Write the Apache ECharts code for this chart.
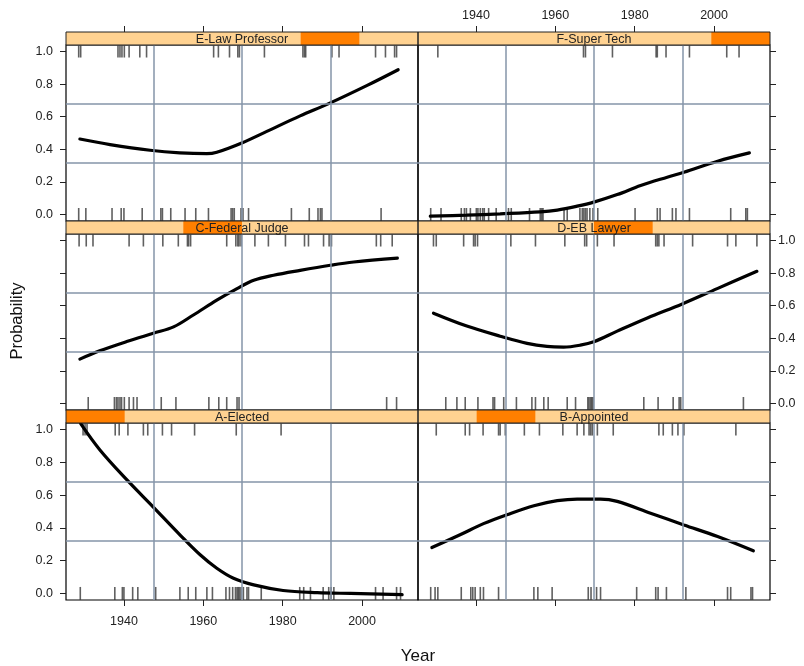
<!DOCTYPE html>
<html><head><meta charset="utf-8">
<script src="https://cdn.jsdelivr.net/npm/echarts@6/dist/echarts.min.js"></script>
<style>html,body{margin:0;padding:0;background:#fff}#c{width:804px;height:666px}</style>
</head><body><div id="c"></div>
<script>
// ---------- data ----------
const panelNames = ['E-Law Professor','F-Super Tech','C-Federal Judge','D-EB Lawyer','A-Elected','B-Appointed'];
const levelIndex = [4,5,2,3,0,1];
const xTicks = [1940,1960,1980,2000];
const yTicks = [0,0.2,0.4,0.6,0.8,1.0];
const xRef = [1947.6,1969.8,1992.1];
const yRef = [0.32,0.68];

const curveE = [[1928.9,0.463],[1936.5,0.429],[1946.6,0.394],[1954.1,0.378],[1960.9,0.373],[1963.4,0.382],[1969.7,0.439],[1976,0.510],[1984.4,0.605],[1991.6,0.680],[2001.3,0.792],[2009.1,0.888]];
const curveF = [[1928.5,-0.01],[1937.7,-0.004],[1946.1,0.004],[1956.2,0.016],[1960.5,0.027],[1965.5,0.051],[1969.7,0.076],[1975.6,0.122],[1981.5,0.178],[1988.2,0.229],[1992.4,0.259],[2000.9,0.327],[2008.9,0.378]];
const curveC = [[1928.9,0.272],[1933.9,0.323],[1940.7,0.380],[1947.4,0.431],[1952.5,0.470],[1957.5,0.543],[1963.4,0.634],[1968.5,0.705],[1972.7,0.756],[1977.7,0.787],[1984.4,0.817],[1992,0.848],[1997.9,0.868],[2008.9,0.892]];
const curveD = [[1929.3,0.554],[1937.7,0.475],[1946.1,0.413],[1952.9,0.369],[1957.9,0.350],[1962.1,0.346],[1966.3,0.358],[1969.7,0.379],[1975.6,0.444],[1983.2,0.525],[1992,0.611],[2000.8,0.705],[2010.8,0.811]];
const curveA = [[1929.1,1.036],[1933.9,0.877],[1940.7,0.694],[1947.4,0.527],[1954.1,0.358],[1959.2,0.236],[1963.4,0.154],[1967.6,0.093],[1972.7,0.052],[1980.1,0.018],[1988.7,0.005],[1997.1,0.0],[2010.1,-0.007]];
const curveB = [[1928.9,0.280],[1936,0.358],[1941.9,0.426],[1947.8,0.480],[1954.6,0.535],[1960.5,0.566],[1965.5,0.576],[1971.4,0.576],[1975.6,0.562],[1984,0.490],[1992.4,0.418],[2000.9,0.347],[2009.9,0.260]];

const rugTopE = [1928.6,1929.1,1938.5,1939.0,1939.5,1940.1,1941.3,1944.0,1945.7,1962.6,1963.8,1966.6,1968.7,1969.1,1975.4,1985.1,1985.5,1985.8,1992.4,1994.2,2003.4,2005.9,2008.2,2008.7];
const rugBotE = [1928.6,1930.4,1937.0,1939.3,1940.0,1944.6,1949.3,1949.7,1951.8,1955.4,1958.1,1961.3,1967.0,1967.4,1967.8,1969.5,1970.0,1971.4,1982.2,1986.7,1988.9,1989.5,1989.9,2004.8];
const rugTopF = [1930.4,1967.1,1967.6,1974.4,1985.4,1985.7,1987.9,1993.8,2003.2,2006.3];
const rugBotF = [1928.6,1931.2,1936.3,1937.1,1937.6,1938.6,1940.1,1940.5,1941.1,1941.7,1942.1,1943.2,1945.1,1948.2,1948.9,1953.5,1956.2,1956.6,1956.9,1962.2,1963.0,1966.2,1966.8,1967.2,1967.6,1968.0,1968.7,1969.5,1970.7,1980.1,1985.7,1986.4,1989.5,1990.4,1993.8,2004.2,2008.0,2008.4];
const rugTopC = [1928.7,1930.5,1932.2,1941.3,1944.9,1949.8,1953.7,1956.0,1956.3,1956.8,1965.9,1968.2,1968.7,1969.0,1969.5,1973.0,1976.4,1980.7,1985.5,1986.5,1990.3,1991.7,1992.3,2003.6,2004.7,2007.6];
const rugBotC = [1931.0,1937.6,1938.1,1938.5,1939.0,1939.4,1940.1,1941.3,1942.4,1943.3,1949.4,1953.1,1961.4,1963.9,1965.9,1968.5,1969.0,2006.2,2008.7];
const rugTopD = [1929.3,1930.0,1936.9,1939.4,1939.8,1940.4,1948.8,1955.0,1962.4,1967.4,1967.9,1970.6,1974.8,1985.3,1985.7,1986.1,1987.4,1994.6,2003.4,2005.5,2010.8];
const rugBotD = [1932.4,1935.2,1937.3,1940.5,1944.3,1944.7,1947.0,1950.2,1954.1,1955.0,1957.1,1958.2,1963.0,1965.1,1968.2,1968.5,1968.9,1969.2,1969.5,1982.3,1985.9,1989.7,1991.2,1991.6,2007.4];
const rugTopA = [1929.7,1930.2,1930.7,1937.8,1938.8,1941.0,1944.9,1946.0,1949.7,1952.0,1957.8,1968.3,1979.6];
const rugBotA = [1929.0,1937.7,1939.6,1940.0,1942.2,1943.5,1948.0,1954.1,1956.2,1958.1,1960.9,1962.3,1965.7,1966.6,1967.4,1968.1,1968.5,1968.8,1969.1,1969.5,1970.1,1971.0,1971.4,1974.6,1984.3,1985.3,1987.0,1990.2,1991.6,1992.2,1992.9,2003.4,2005.3,2008.7,2009.7];
const rugTopB = [1930.0,1937.3,1938.4,1941.8,1945.7,1946.1,1947.4,1952.2,1956.0,1961.9,1965.5,1967.2,1968.5,1968.9,1969.3,1970.6,1974.6,1986.1,1987.2,1989.5,1990.9,1992.4,2005.5];
const rugBotB = [1928.6,1929.7,1930.4,1936.3,1938.7,1939.2,1939.8,1941.1,1941.9,1945.7,1954.6,1955.6,1959.2,1968.3,1969.0,1970.4,1971.4,1980.5,1985.3,1985.9,1988.0,1992.9,2003.4,2004.2,2009.3,2009.7];

const curves = [curveE,curveF,curveC,curveD,curveA,curveB];
const rugTops = [rugTopE,rugTopF,rugTopC,rugTopD,rugTopA,rugTopB];
const rugBots = [rugBotE,rugBotF,rugBotC,rugBotD,rugBotA,rugBotB];

// ---------- layout ----------
const FONT = "'Liberation Sans', Arial, sans-serif";
const colLeft = [66, 418];
const panelW = 352;
const rowTop = [45, 234, 423];
const rowH = [176, 176, 177];
const stripH = 13;
const xMin = 1925.4, xMax = 2014.1, yMin = -0.04, yMax = 1.04;
const refColor = '#8494a8';
const lightStrip = '#ffd291';
const darkStrip = '#ff7f00';

const grids = [], xAxes = [], yAxes = [], series = [], graphics = [];
for (let i = 0; i < 6; i++) {
  const col = i % 2, row = Math.floor(i / 2);
  const left = colLeft[col], top = rowTop[row];
  grids.push({left: left, top: top, width: panelW, height: rowH[row], show: true,
    borderColor: '#000', borderWidth: 1.2, backgroundColor: 'transparent', containLabel: false});
  const showX = row !== 1;
  xAxes.push({type: 'value', gridIndex: i, min: xMin, max: xMax,
    position: row === 0 ? 'top' : 'bottom', offset: row === 0 ? stripH : 0,
    show: showX,
    axisLine: {show: false, onZero: false}, splitLine: {show: false},
    axisTick: {show: true, customValues: xTicks, length: 6, lineStyle: {color: '#222', width: 1}},
    axisLabel: {show: (i === 1 || i === 4), customValues: xTicks, margin: row === 0 ? 10 : 15,
      fontFamily: FONT, fontSize: 12.5, color: '#222', formatter: v => String(v)}
  });
  yAxes.push({type: 'value', gridIndex: i, min: yMin, max: yMax,
    position: col === 0 ? 'left' : 'right',
    axisLine: {show: false, onZero: false}, splitLine: {show: false},
    axisTick: {show: true, customValues: yTicks, length: 6, lineStyle: {color: '#222', width: 1}},
    axisLabel: {show: (i === 0 || i === 3 || i === 4), customValues: yTicks,
      margin: col === 0 ? 13 : 8,
      fontFamily: FONT, fontSize: 12.5, color: '#222', formatter: v => v.toFixed(1)}
  });
  // reference grid lines
  series.push({type: 'line', xAxisIndex: i, yAxisIndex: i, data: [], silent: true, z: 1,
    markLine: {silent: true, symbol: ['none','none'], animation: false,
      label: {show: false},
      lineStyle: {color: refColor, width: 1.5, type: 'solid'},
      data: xRef.map(v => ({xAxis: v})).concat(yRef.map(v => ({yAxis: v})))}
  });
  // rugs
  series.push({type: 'scatter', xAxisIndex: i, yAxisIndex: i, z: 2, silent: true,
    symbol: 'rect', symbolSize: [1.6, 12],
    itemStyle: {color: '#383838'},
    data: rugTops[i].map(x => [x, 1])});
  series.push({type: 'scatter', xAxisIndex: i, yAxisIndex: i, z: 2, silent: true,
    symbol: 'rect', symbolSize: [1.6, 13],
    itemStyle: {color: '#383838'},
    data: rugBots[i].map(x => [x, 0])});
  // smooth curve
  series.push({type: 'line', xAxisIndex: i, yAxisIndex: i, z: 3, silent: true,
    smooth: 0.35, showSymbol: false, symbol: 'none',
    lineStyle: {color: '#000', width: 3.2, cap: 'round'},
    data: curves[i]});
  // strip
  const sy = top - stripH;
  graphics.push({type: 'rect', shape: {x: left, y: sy, width: panelW, height: stripH},
    style: {fill: lightStrip}, z: 10});
  graphics.push({type: 'rect', shape: {x: left + levelIndex[i] * panelW / 6, y: sy, width: panelW / 6, height: stripH},
    style: {fill: darkStrip}, z: 11});
  graphics.push({type: 'text', x: left + panelW / 2, y: sy + stripH / 2 + 1,
    style: {text: panelNames[i], fill: '#222', font: '12.5px ' + FONT, textAlign: 'center', textVerticalAlign: 'middle'}, z: 12});
  graphics.push({type: 'rect', shape: {x: left, y: sy, width: panelW, height: stripH},
    style: {fill: 'none', stroke: '#222', lineWidth: 1}, z: 13});
}
graphics.push({type: 'text', x: 17, y: 321, rotation: Math.PI / 2,
  style: {text: 'Probability', fill: '#111', font: '16.5px ' + FONT, textAlign: 'center', textVerticalAlign: 'middle'}});
graphics.push({type: 'text', x: 418, y: 656,
  style: {text: 'Year', fill: '#111', font: '17px ' + FONT, textAlign: 'center', textVerticalAlign: 'middle'}});

const chart = echarts.init(document.getElementById('c'), null, {renderer: 'canvas'});
chart.setOption({animation: false, backgroundColor: '#fff',
  grid: grids, xAxis: xAxes, yAxis: yAxes, series: series, graphic: graphics});
</script></body></html>
